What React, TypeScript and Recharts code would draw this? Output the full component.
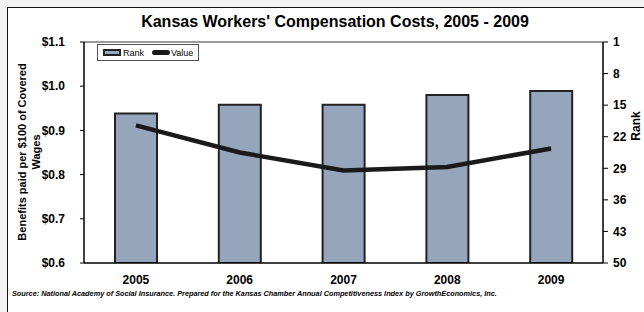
import { Bar, ComposedChart, Line, ReferenceLine, XAxis, YAxis } from "recharts";

const years = ["2005", "2006", "2007", "2008", "2009"];
const benefitValues = [0.938, 0.958, 0.958, 0.98, 0.989];
const rankValues = [19.5, 25.5, 29.5, 28.7, 24.6];
const valueTicks = [0.6, 0.7, 0.8, 0.9, 1.0, 1.1];
const rankTicks = [1, 8, 15, 22, 29, 36, 43, 50];

const data = years.map((year, i) => ({
  year,
  benefit: benefitValues[i],
  rank: rankValues[i],
}));

const font = "'Liberation Sans', Arial, sans-serif";
const barFill = "#95a5bc";
const ink = "#1a1a1a";

const tickStyle = { fontSize: 12, fontWeight: 700, fill: "#000", fontFamily: font };

// legend drawn by hand so it doesn't push the plot area down
function LegendBox() {
  return (
    <div
      style={{
        position: "absolute",
        left: 97,
        top: 44,
        display: "flex",
        alignItems: "center",
        border: "1px solid #555",
        padding: "1px 5px",
        height: 13,
        fontFamily: font,
        fontSize: 9,
        color: "#000",
        background: "#fff",
      }}
    >
      <span
        style={{
          display: "inline-block",
          width: 14,
          height: 3,
          background: barFill,
          border: "2px solid #222",
          marginRight: 2,
        }}
      />
      Rank
      <span
        style={{
          display: "inline-block",
          width: 18,
          height: 5,
          background: ink,
          borderRadius: 3,
          marginLeft: 8,
          marginRight: 1,
        }}
      />
      Value
    </div>
  );
}

export default function App() {
  return (
    <div
      style={{
        position: "absolute",
        left: 0,
        top: 0,
        width: 644,
        height: 312,
        background: "#f3f3f3",
        overflow: "hidden",
      }}
    >
      <div
        style={{
          position: "absolute",
          left: 7,
          top: 7,
          width: 700,
          height: 400,
          border: "1px solid #111",
          background: "#fff",
        }}
      />
      <div style={{ position: "absolute", left: 0, top: 0 }}>
        <ComposedChart
          width={644}
          height={312}
          data={data}
          margin={{ top: 42, right: 0, bottom: 19, left: 0 }}
          barCategoryGap="30%"
        >
          <XAxis
            dataKey="year"
            tick={tickStyle}
            tickLine={false}
            axisLine={{ stroke: "#000", strokeWidth: 1.5 }}
            tickSize={4}
            tickMargin={8}
            height={30}
            interval={0}
          />
          <YAxis
            yAxisId="left"
            domain={[0.6, 1.1]}
            ticks={valueTicks}
            tickFormatter={(v: number) => "$" + v.toFixed(1)}
            tick={tickStyle}
            tickSize={4}
            tickMargin={15}
            axisLine={{ stroke: "#000", strokeWidth: 1.5 }}
            tickLine={{ stroke: "#000" }}
            width={84}
            allowDataOverflow
          />
          <YAxis
            yAxisId="right"
            orientation="right"
            reversed
            domain={[1, 50]}
            ticks={rankTicks}
            tick={tickStyle}
            tickSize={5}
            tickMargin={5}
            axisLine={{ stroke: "#000", strokeWidth: 1.5 }}
            tickLine={{ stroke: "#000" }}
            width={41}
            allowDataOverflow
          />
          <ReferenceLine yAxisId="left" y={1.1} stroke="#9a9a9a" strokeWidth={2} />
          <Bar
            yAxisId="left"
            dataKey="benefit"
            name="Rank"
            fill={barFill}
            stroke="#222"
            strokeWidth={2}
            barSize={42}
            isAnimationActive={false}
          />
          <Line
            yAxisId="right"
            dataKey="rank"
            name="Value"
            type="linear"
            stroke={ink}
            strokeWidth={4.5}
            dot={false}
            isAnimationActive={false}
          />
        </ComposedChart>
      </div>
      <LegendBox />
      <svg
        width={644}
        height={312}
        style={{ position: "absolute", left: 0, top: 0, pointerEvents: "none" }}
        fontFamily={font}
      >
        <text x={335} y={27} textAnchor="middle" fontSize={16} fontWeight={700} fill="#000">
          Kansas Workers' Compensation Costs, 2005 - 2009
        </text>
        <g transform="translate(22,152) rotate(-90)">
          <text x={0} y={4} textAnchor="middle" fontSize={11} fontWeight={700} fill="#000">
            Benefits paid per $100 of Covered
          </text>
          <text x={0} y={18} textAnchor="middle" fontSize={11} fontWeight={700} fill="#000">
            Wages
          </text>
        </g>
        <text
          transform="translate(636,126) rotate(-90)"
          textAnchor="middle"
          fontSize={12}
          fontWeight={700}
          fill="#000"
          y={4}
        >
          Rank
        </text>
        <text x={12} y={296} fontSize={7.3} fontWeight={700} fontStyle="italic" fill="#000">
          Source: National Academy of Social Insurance. Prepared for the Kansas Chamber Annual Competitiveness Index by GrowthEconomics, Inc.
        </text>
      </svg>
    </div>
  );
}
